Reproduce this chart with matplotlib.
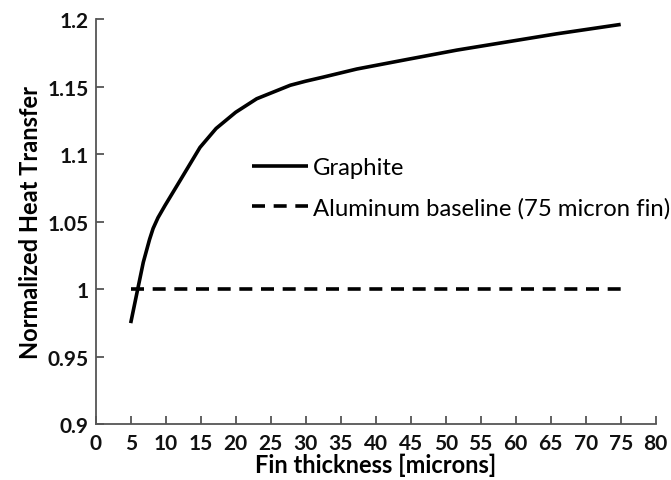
import matplotlib
matplotlib.use("Agg")
import matplotlib.pyplot as plt

plt.rcParams['font.family'] = ['Lato', 'DejaVu Sans']

# data
thickness = [5, 6, 6.8, 7.7, 8.2, 8.9, 9.9, 10.6, 12, 14.9, 17.2, 20, 23, 25.4,
             27.8, 30, 32.5, 37.3, 44.4, 51.6, 58.7, 65.8, 75]
graphite = [0.975, 1.000, 1.020, 1.037, 1.045, 1.053, 1.062, 1.068, 1.080, 1.105,
            1.119, 1.131, 1.141, 1.146, 1.151, 1.154, 1.157, 1.163, 1.170, 1.177,
            1.183, 1.189, 1.196]
baseline_x = [5, 75]
baseline_y = [1.0, 1.0]

fig = plt.figure(figsize=(6.71, 4.81), dpi=100)
ax = fig.add_axes([0.1426, 0.1154, 0.8346, 0.8430])

ax.plot(thickness, graphite, color='black', lw=2.6, label='Graphite',
        solid_joinstyle='round', solid_capstyle='butt')
ax.plot(baseline_x, baseline_y, color='black', lw=2.6, ls=(0, (3.6, 2.4)),
        label='Aluminum baseline (75 micron fin)')

ax.set_xlim(0, 80)
ax.set_ylim(0.9, 1.2)
ax.set_xticks(range(0, 81, 5))
ax.set_yticks([0.9, 0.95, 1.0, 1.05, 1.1, 1.15, 1.2])
ax.set_yticklabels(['0.9', '0.95', '1', '1.05', '1.1', '1.15', '1.2'])

for s in ['top', 'right']:
    ax.spines[s].set_visible(False)
for s in ['left', 'bottom']:
    ax.spines[s].set_color('#555555')
    ax.spines[s].set_linewidth(1.3)
ax.tick_params(direction='in', length=6, width=1.3, color='#555555',
               labelsize=15)
ax.tick_params(axis='x', pad=6)
ax.tick_params(axis='y', pad=5)
for lab in ax.get_xticklabels() + ax.get_yticklabels():
    lab.set_fontweight('bold')
    lab.set_color('#111111')

ax.set_xlabel('Fin thickness [microns]', fontsize=17, fontweight='bold', labelpad=0)
ax.set_ylabel('Normalized Heat Transfer', fontsize=17, fontweight='bold', labelpad=4)

leg = ax.legend(loc='center left', bbox_to_anchor=(252 / 671, 1 - 189 / 481),
                bbox_transform=fig.transFigure, frameon=False, fontsize=17.2,
                handlelength=2.35, handletextpad=0.2, labelspacing=0.8,
                borderpad=0, borderaxespad=0)

fig.savefig('out.png', dpi=100)
